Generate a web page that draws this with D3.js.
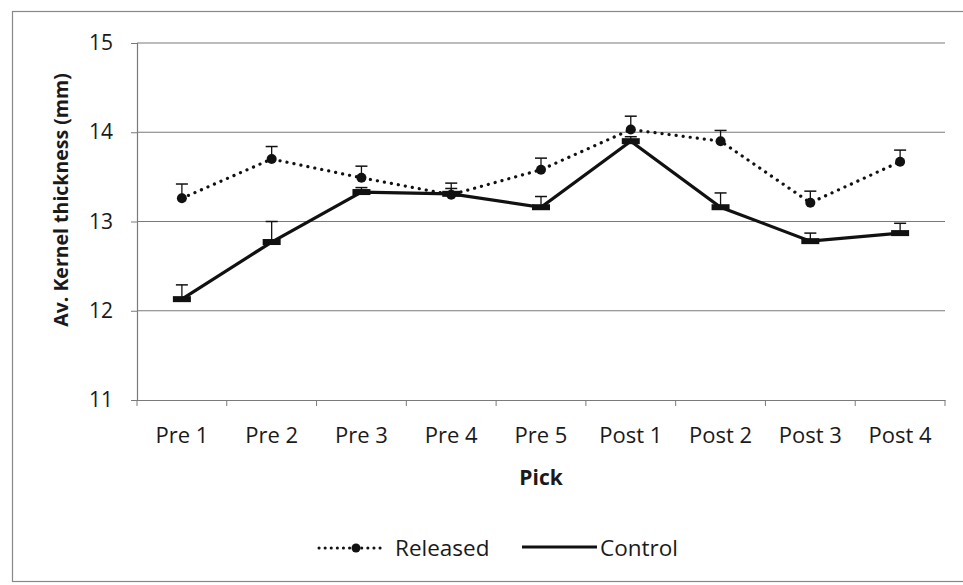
<!DOCTYPE html>
<html><head><meta charset="utf-8">
<script src="https://cdn.jsdelivr.net/npm/d3@7"></script>
<style>
body{margin:0;background:#fff;}
text{font-family:"Open Sans","Noto Sans",sans-serif;fill:#1a1a1a;}
</style></head>
<body><svg id="c" width="963" height="585"></svg>
<script>
const categories = ["Pre 1","Pre 2","Pre 3","Pre 4","Pre 5","Post 1","Post 2","Post 3","Post 4"];
const released = [13.26,13.70,13.49,13.30,13.58,14.03,13.90,13.21,13.67];
const releasedErr = [0.16,0.14,0.13,0.13,0.13,0.15,0.12,0.13,0.13];
const control = [12.13,12.77,13.33,13.31,13.16,13.90,13.16,12.78,12.87];
const controlErr = [0.16,0.23,0.05,0.06,0.12,0.05,0.16,0.09,0.11];
const yTicks = [11,12,13,14,15];

const svg = d3.select("#c");
svg.append("rect").attr("x",12.5).attr("y",11.5).attr("width",960).attr("height",570)
  .attr("fill","#fff").attr("stroke","#888").attr("stroke-width",1.2);

const m = {l:137, r:945, t:43, b:400};
const x = d3.scaleBand().domain(categories).range([m.l,m.r]);
const y = d3.scaleLinear().domain([11,15]).range([m.b,m.t]);
const cx = d => x(d)+x.bandwidth()/2;

// gridlines
svg.append("g").selectAll("line").data(yTicks.slice(1)).join("line")
  .attr("x1",m.l).attr("x2",m.r).attr("y1",d=>y(d)).attr("y2",d=>y(d))
  .attr("stroke","#7a7a7a").attr("stroke-width",1.2);

// y axis
const ya = svg.append("g").attr("transform",`translate(${m.l},0)`)
  .call(d3.axisLeft(y).tickValues(yTicks).tickSize(6).tickPadding(18).tickFormat(d3.format("d")));
ya.select(".domain").attr("stroke","#7a7a7a").attr("stroke-width",1.2);
ya.selectAll(".tick line").attr("stroke","#7a7a7a");
ya.selectAll(".tick text").style("font-size","21px").attr("fill","#1a1a1a");

// x axis
const xa = svg.append("g").attr("transform",`translate(0,${m.b})`)
  .call(d3.axisBottom(x).tickSize(0).tickPadding(27));
xa.select(".domain").attr("stroke","#7a7a7a").attr("stroke-width",1.2);
xa.selectAll(".tick text").style("font-size","22px").attr("fill","#1a1a1a");
const bounds = categories.map(c=>x(c)).concat([m.r]);
svg.append("g").selectAll("line").data(bounds).join("line")
  .attr("x1",d=>d).attr("x2",d=>d).attr("y1",m.b).attr("y2",m.b+6)
  .attr("stroke","#7a7a7a");

// axis titles
svg.append("text").attr("transform",`translate(68,200) rotate(-90)`)
  .attr("text-anchor","middle").style("font-size","19.5px").style("font-weight","bold")
  .text("Av. Kernel thickness (mm)");
svg.append("text").attr("x",(m.l+m.r)/2).attr("y",485).attr("text-anchor","middle")
  .style("font-size","21px").style("font-weight","bold").text("Pick");

const line = d3.line().x((d,i)=>cx(categories[i])).y(d=>y(d));

function errBars(vals, errs){
  const g = svg.append("g");
  vals.forEach((v,i)=>{
    const px = cx(categories[i]);
    g.append("line").attr("x1",px).attr("x2",px).attr("y1",y(v)).attr("y2",y(v+errs[i]))
      .attr("stroke","#111").attr("stroke-width",1.3);
    g.append("line").attr("x1",px-6).attr("x2",px+6).attr("y1",y(v+errs[i])).attr("y2",y(v+errs[i]))
      .attr("stroke","#111").attr("stroke-width",1.5);
  });
}
errBars(control, controlErr);
errBars(released, releasedErr);

// control line
svg.append("path").datum(control).attr("d",line).attr("fill","none")
  .attr("stroke","#111").attr("stroke-width",3.2);
svg.append("g").selectAll("rect").data(control).join("rect")
  .attr("x",(d,i)=>cx(categories[i])-9).attr("y",d=>y(d)-3).attr("width",18).attr("height",6)
  .attr("fill","#111");

// released line
svg.append("path").datum(released).attr("d",line).attr("fill","none")
  .attr("stroke","#111").attr("stroke-width",3.2).attr("stroke-dasharray","0.1 7")
  .attr("stroke-linecap","round");
svg.append("g").selectAll("circle").data(released).join("circle")
  .attr("cx",(d,i)=>cx(categories[i])).attr("cy",d=>y(d)).attr("r",5).attr("fill","#111");

// legend
const lg = svg.append("g");
lg.append("line").attr("x1",319).attr("x2",385).attr("y1",548).attr("y2",548)
  .attr("stroke","#111").attr("stroke-width",3).attr("stroke-dasharray","0.1 6").attr("stroke-linecap","round");
lg.append("circle").attr("cx",356).attr("cy",548).attr("r",4.5).attr("fill","#111");
lg.append("text").attr("x",395).attr("y",556).style("font-size","22.5px").text("Released");
lg.append("line").attr("x1",522).attr("x2",597).attr("y1",547).attr("y2",547)
  .attr("stroke","#111").attr("stroke-width",3.2);
lg.append("text").attr("x",600).attr("y",556).style("font-size","22.5px").text("Control");
</script></body></html>
